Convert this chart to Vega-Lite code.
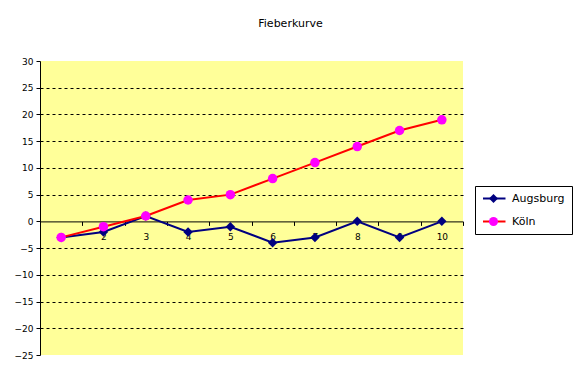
{
  "$schema": "https://vega.github.io/schema/vega-lite/v6.json",
  "width": 423,
  "height": 294,
  "autosize": "none",
  "padding": {"left": 40, "top": 61, "right": 119, "bottom": 26},
  "background": "white",
  "title": {"text": "Fieberkurve", "anchor": "middle", "frame": "group", "dx": 39, "offset": 28, "font": "DejaVu Sans", "fontSize": 11, "fontWeight": "normal", "color": "black"},
  "config": {"view": {"fill": "#FFFF99", "stroke": null}, "font": "DejaVu Sans"},
  "data": {"values": [
    {"Tag": 1, "Stadt": "Augsburg", "Temperatur": -3},
    {"Tag": 2, "Stadt": "Augsburg", "Temperatur": -2},
    {"Tag": 3, "Stadt": "Augsburg", "Temperatur": 1},
    {"Tag": 4, "Stadt": "Augsburg", "Temperatur": -2},
    {"Tag": 5, "Stadt": "Augsburg", "Temperatur": -1},
    {"Tag": 6, "Stadt": "Augsburg", "Temperatur": -4},
    {"Tag": 7, "Stadt": "Augsburg", "Temperatur": -3},
    {"Tag": 8, "Stadt": "Augsburg", "Temperatur": 0},
    {"Tag": 9, "Stadt": "Augsburg", "Temperatur": -3},
    {"Tag": 10, "Stadt": "Augsburg", "Temperatur": 0},
    {"Tag": 1, "Stadt": "Köln", "Temperatur": -3},
    {"Tag": 2, "Stadt": "Köln", "Temperatur": -1},
    {"Tag": 3, "Stadt": "Köln", "Temperatur": 1},
    {"Tag": 4, "Stadt": "Köln", "Temperatur": 4},
    {"Tag": 5, "Stadt": "Köln", "Temperatur": 5},
    {"Tag": 6, "Stadt": "Köln", "Temperatur": 8},
    {"Tag": 7, "Stadt": "Köln", "Temperatur": 11},
    {"Tag": 8, "Stadt": "Köln", "Temperatur": 14},
    {"Tag": 9, "Stadt": "Köln", "Temperatur": 17},
    {"Tag": 10, "Stadt": "Köln", "Temperatur": 19}
  ]},
  "encoding": {
    "x": {"field": "Tag", "type": "ordinal", "scale": {"type": "band", "paddingInner": 0, "paddingOuter": 0},
      "axis": {"title": null, "orient": "bottom", "offset": -133.6, "labelAngle": 0, "labelFontSize": 9, "labelColor": "black", "labelPadding": 7, "domainColor": "black", "tickColor": "black", "tickSize": 4, "tickBand": "extent", "grid": false}},
    "y": {"field": "Temperatur", "type": "quantitative", "scale": {"domain": [-25, 30], "nice": false, "zero": false},
      "axis": {"title": null, "values": [-25, -20, -15, -10, -5, 0, 5, 10, 15, 20, 25, 30], "grid": true, "gridColor": "black", "gridDash": [3, 3],
        "gridOpacity": {"condition": {"test": "datum.value == 30 || datum.value == -25 || datum.value == 0", "value": 0}, "value": 1},
        "domainColor": "black", "tickColor": "black", "tickSize": 4, "labelFontSize": 9, "labelColor": "black", "labelPadding": 3}}
  },
  "layer": [
    {
      "mark": {"type": "line", "strokeWidth": 2},
      "encoding": {
        "stroke": {"field": "Stadt", "type": "nominal", "scale": {"domain": ["Augsburg", "Köln"], "range": ["#000080", "#FF0000"]},
          "legend": {"title": null, "orient": "none", "legendX": 435, "legendY": 125, "padding": 7, "strokeColor": "black", "fillColor": "white",
            "symbolType": "M-1,0H4", "symbolSize": 81, "symbolStrokeWidth": 2, "symbolFillColor": "transparent",
            "labelFontSize": 11, "labelColor": "black", "labelOffset": 19, "rowPadding": 11}}
      }
    },
    {
      "mark": {"type": "point", "filled": true, "opacity": 1, "strokeWidth": 0, "size": 90},
      "encoding": {
        "fill": {"field": "Stadt", "type": "nominal", "scale": {"range": ["#000080", "#FF00FF"]},
          "legend": {"title": null, "orient": "none", "legendX": 441, "legendY": 125, "padding": 7, "zindex": 1,
            "symbolSize": 81, "symbolStrokeWidth": 0, "labelFontSize": 11, "labelExpr": "''", "labelOffset": 0, "rowPadding": 11}},
        "shape": {"field": "Stadt", "type": "nominal", "scale": {"range": ["diamond", "circle"]},
          "legend": {"title": null, "orient": "none", "legendX": 441, "legendY": 125, "padding": 7, "zindex": 1,
            "symbolSize": 81, "symbolStrokeWidth": 0, "labelFontSize": 11, "labelExpr": "''", "labelOffset": 0, "rowPadding": 11}}
      }
    }
  ]
}
